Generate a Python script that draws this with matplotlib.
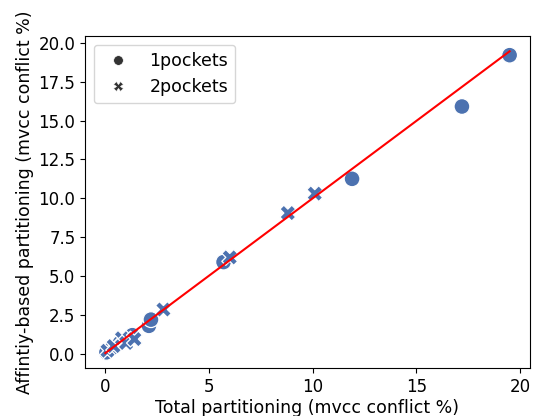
import matplotlib
matplotlib.use("Agg")
import matplotlib.pyplot as plt
from matplotlib.lines import Line2D
import seaborn as sns
import pandas as pd

# values
one_x = [0.05, 0.3, 0.7, 1.3, 2.1, 2.2, 5.7, 11.9, 17.2, 19.5]
one_y = [0.1, 0.35, 0.7, 1.2, 1.8, 2.2, 5.9, 11.25, 15.9, 19.2]
two_x = [0.1, 0.4, 0.8, 1.0, 1.4, 2.8, 6.0, 8.8, 10.1]
two_y = [0.2, 0.5, 1.0, 0.7, 0.95, 2.85, 6.2, 9.05, 10.3]
fit_x = [0.0, 19.5]
fit_y = [0.05, 19.45]

df = pd.DataFrame({
    "total": one_x + two_x,
    "affinity": one_y + two_y,
    "pockets": ["1pockets"] * len(one_x) + ["2pockets"] * len(two_x),
})

plt.rcParams["font.size"] = 12
fig, ax = plt.subplots(figsize=(5.39, 4.16), dpi=100)
sns.scatterplot(data=df, x="total", y="affinity", style="pockets",
                color="#4c72b0", s=130, ax=ax, legend=False)
ax.plot(fit_x, fit_y, color="red")
ax.set_xlabel("Total partitioning (mvcc conflict %)", fontsize=12.5, labelpad=2)
ax.set_ylabel("Affintiy-based partitioning (mvcc conflict %)", fontsize=12.5, labelpad=3)
ax.set_xticks([0, 5, 10, 15, 20])
ax.set_yticks([0, 2.5, 5, 7.5, 10, 12.5, 15, 17.5, 20])

# seaborn-style legend: gray markers for the style levels
handles = [
    Line2D([], [], marker="o", color="#333333", linestyle="none", markersize=7,
           markeredgecolor="white", markeredgewidth=0.5),
    Line2D([], [], marker="X", color="#333333", linestyle="none", markersize=7,
           markeredgecolor="white", markeredgewidth=0.5),
]
ax.legend(handles, ["1pockets", "2pockets"], loc="upper left", fontsize=12.5)
fig.subplots_adjust(left=0.158, right=0.983, bottom=0.115, top=0.913)
fig.savefig("out.png")
